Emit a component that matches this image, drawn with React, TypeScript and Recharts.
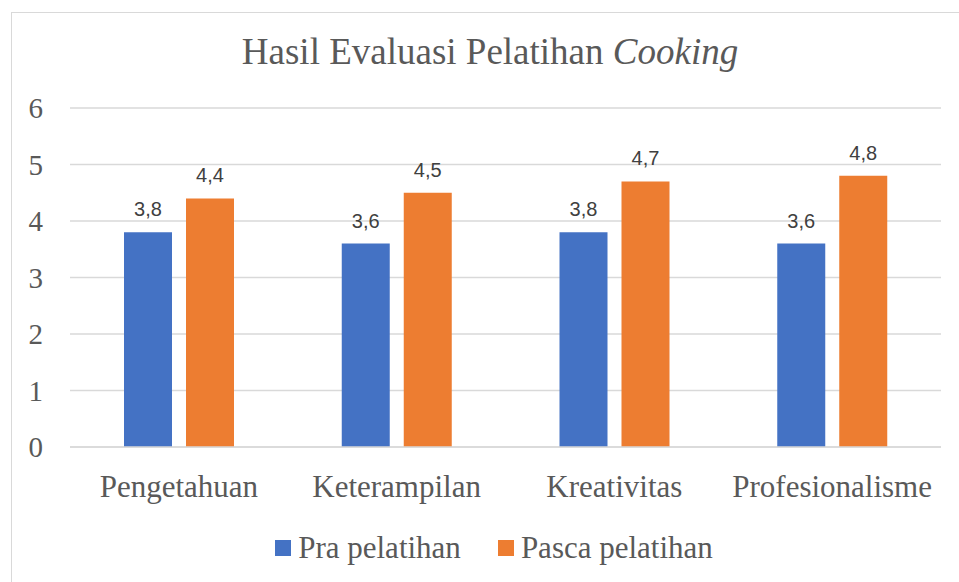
import { BarChart, Bar, XAxis, YAxis, CartesianGrid, Legend, LabelList } from "recharts";

const categories = ["Pengetahuan", "Keterampilan", "Kreativitas", "Profesionalisme"];
const praPelatihan = [3.8, 3.6, 3.8, 3.6];
const pascaPelatihan = [4.4, 4.5, 4.7, 4.8];
const yTicks = [0, 1, 2, 3, 4, 5, 6];
const seriesNames = ["Pra pelatihan", "Pasca pelatihan"];

const BLUE = "#4472C4";
const ORANGE = "#ED7D31";
const seriesColors = [BLUE, ORANGE];
const TEXT = "#595959";
const GRID = "#D9D9D9";
const SERIF = "Liberation Serif";
const SANS = "Liberation Sans";

const data = categories.map((c, i) => ({ name: c, pra: praPelatihan[i], pasca: pascaPelatihan[i] }));

const fmt = (v: any) => String(v).replace(".", ",");

function LegendBox() {
  return (
    <div style={{ display: "flex", justifyContent: "center", color: TEXT }}>
      {seriesNames.map((n, i) => (
        <div key={n} style={{ display: "flex", alignItems: "center", marginLeft: i ? 37 : 0 }}>
          <span style={{ width: 16, height: 16, background: seriesColors[i], display: "inline-block", marginRight: 7 }} />
          <span style={{ fontFamily: SERIF, fontSize: 31, lineHeight: "36px" }}>{n}</span>
        </div>
      ))}
    </div>
  );
}

export default function App() {
  return (
    <div style={{ position: "absolute", left: 0, top: 0, width: 959, height: 582, overflow: "hidden", background: "#fff", fontFamily: SERIF }}>
      <div style={{ position: "absolute", left: 11, top: 12, width: 1000, height: 700, border: `1.5px solid ${GRID}` }} />
      <svg width={959} height={100} style={{ position: "absolute", left: 0, top: 0 }}>
        <text x={490} y={64} textAnchor="middle" fontFamily={SERIF} fontSize={37} fill={TEXT}>
          <tspan>Hasil Evaluasi Pelatihan </tspan>
          <tspan fontStyle="italic">Cooking</tspan>
        </text>
      </svg>
      <div style={{ position: "absolute", left: 0, top: 0 }}>
        <BarChart width={959} height={582} data={data} margin={{ top: 108, right: 18, left: 0, bottom: 75 }} barSize={48} barGap={14}>
          <CartesianGrid vertical={false} stroke={GRID} strokeWidth={1.5} />
          <XAxis
            dataKey="name"
            height={60}
            tickLine={false}
            tickSize={0}
            tickMargin={28}
            axisLine={{ stroke: GRID, strokeWidth: 1.5 }}
            tick={{ fill: TEXT, fontSize: 31, fontFamily: SERIF }}
          />
          <YAxis
            width={70}
            domain={[0, 6]}
            ticks={yTicks}
            axisLine={false}
            tickLine={false}
            tickSize={0}
            tickMargin={27}
            tick={{ fill: TEXT, fontSize: 29, fontFamily: SERIF }}
          />
          <Legend
            layout="horizontal"
            verticalAlign="middle"
            align="center"
            content={<LegendBox />}
            wrapperStyle={{ top: 530, left: 32, width: 924 }}
          />
          <Bar dataKey="pra" name={seriesNames[0]} fill={BLUE} isAnimationActive={false}>
            <LabelList dataKey="pra" position="top" offset={16} formatter={fmt} fill="#404040" fontSize={20} fontFamily={SANS} />
          </Bar>
          <Bar dataKey="pasca" name={seriesNames[1]} fill={ORANGE} isAnimationActive={false}>
            <LabelList dataKey="pasca" position="top" offset={16} formatter={fmt} fill="#404040" fontSize={20} fontFamily={SANS} />
          </Bar>
        </BarChart>
      </div>
    </div>
  );
}
